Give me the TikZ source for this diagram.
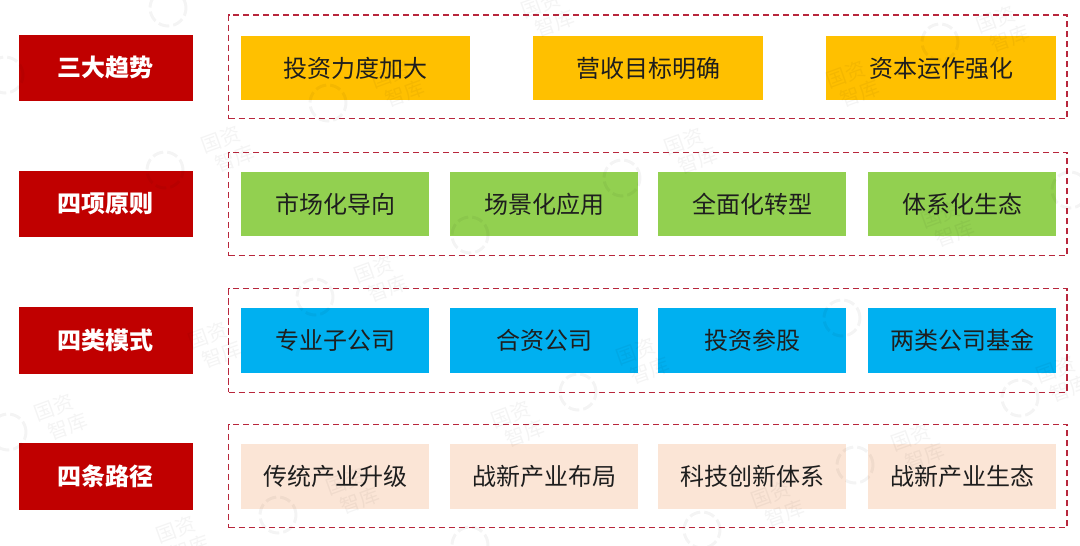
\documentclass[tikz,border=0pt]{standalone}
\usepackage{fontspec}
\setmainfont{Noto Sans CJK SC}
\definecolor{lblred}{HTML}{C00000}
\definecolor{dashred}{HTML}{B8263C}
\definecolor{ambr}{HTML}{FFC000}
\definecolor{lgreen}{HTML}{92D050}
\definecolor{skyb}{HTML}{00B0F0}
\definecolor{peach}{HTML}{FBE5D6}
\definecolor{ink}{HTML}{1E1E1E}
\tikzset{
  every node/.style={inner sep=0pt,outer sep=0pt},
  lbl/.style={fill=lblred,text=white,minimum width=174pt,minimum height=66.5pt,font=\fontsize{24}{28}\selectfont\bfseries},
  wide/.style={minimum width=229.5pt,minimum height=64pt,text=ink,font=\fontsize{24}{28}\selectfont},
  item/.style={minimum width=188pt,minimum height=64.5pt,text=ink,font=\fontsize{24}{28}\selectfont},
  frame/.style={draw=dashred,line width=1.2pt,dash pattern=on 6.5pt off 3.5pt,minimum width=838.5pt,minimum height=103.5pt},
  wmark/.style={text=black,opacity=0.045,rotate=20,align=center,font=\fontsize{20}{23}\selectfont},
  wicon/.style={draw=black,draw opacity=0.045,line width=3pt,dash pattern=on 11pt off 4pt,circle,minimum size=36pt}
}
\begin{document}
\begin{tikzpicture}[x=1pt,y=-1pt]
\useasboundingbox (0,0) rectangle (1080,546);
% dashed frames
\node[frame] (f1) at (647.75,66.75) {};
\node[frame] (f2) at (647.75,204) {};
\node[frame] (f3) at (647.75,340.5) {};
\node[frame] (f4) at (647.75,476) {};
% row labels
\node[lbl] (l1) at (105.5,67.75) {三大趋势};
\node[lbl] (l2) at (105.5,204) {四项原则};
\node[lbl] (l3) at (105.5,340.5) {四类模式};
\node[lbl] (l4) at (105.5,476.5) {四条路径};
% row 1
\node[wide,fill=ambr] (a1) at (355.5,68) {投资力度加大};
\node[wide,fill=ambr] (a2) at (648,68) {营收目标明确};
\node[wide,fill=ambr] (a3) at (941,68) {资本运作强化};
% row 2
\node[item,fill=lgreen] (b1) at (335,204) {市场化导向};
\node[item,fill=lgreen] (b2) at (544,204) {场景化应用};
\node[item,fill=lgreen] (b3) at (752,204) {全面化转型};
\node[item,fill=lgreen] (b4) at (962,204) {体系化生态};
% row 3
\node[item,fill=skyb] (c1) at (335,340.5) {专业子公司};
\node[item,fill=skyb] (c2) at (544,340.5) {合资公司};
\node[item,fill=skyb] (c3) at (752,340.5) {投资参股};
\node[item,fill=skyb] (c4) at (962,340.5) {两类公司基金};
% row 4
\node[item,fill=peach] (d1) at (335,476.5) {传统产业升级};
\node[item,fill=peach] (d2) at (544,476.5) {战新产业布局};
\node[item,fill=peach] (d3) at (752,476.5) {科技创新体系};
\node[item,fill=peach] (d4) at (962,476.5) {战新产业生态};
% watermarks
\foreach \n/\x/\y in {w1/225/150,w2/378/280,w3/212/346,w4/640/362,w5/58/418,w6/515/425,w7/915/448,w8/775/505,w9/350/492,w10/1000/30,w11/688/152,w12/395/85,w13/545/15,w14/1060/380,w15/945/225,w16/180/540,w17/850/85}
  \node[wmark] (\n) at (\x,\y) {国资\\\hspace{12pt}智库};
\foreach \n/\x/\y in {i1/168/8,i2/165/170,i3/328/103,i4/315/297,i5/622/178,i6/470/235,i7/940/42,i8/578/392,i9/1020/398,i10/5/75,i11/8/432,i12/278/515,i13/855/465,i14/702/530,i15/842/318,i16/470/545,i17/1070/190}
  \node[wicon] (\n) at (\x,\y) {};
\end{tikzpicture}
\end{document}
